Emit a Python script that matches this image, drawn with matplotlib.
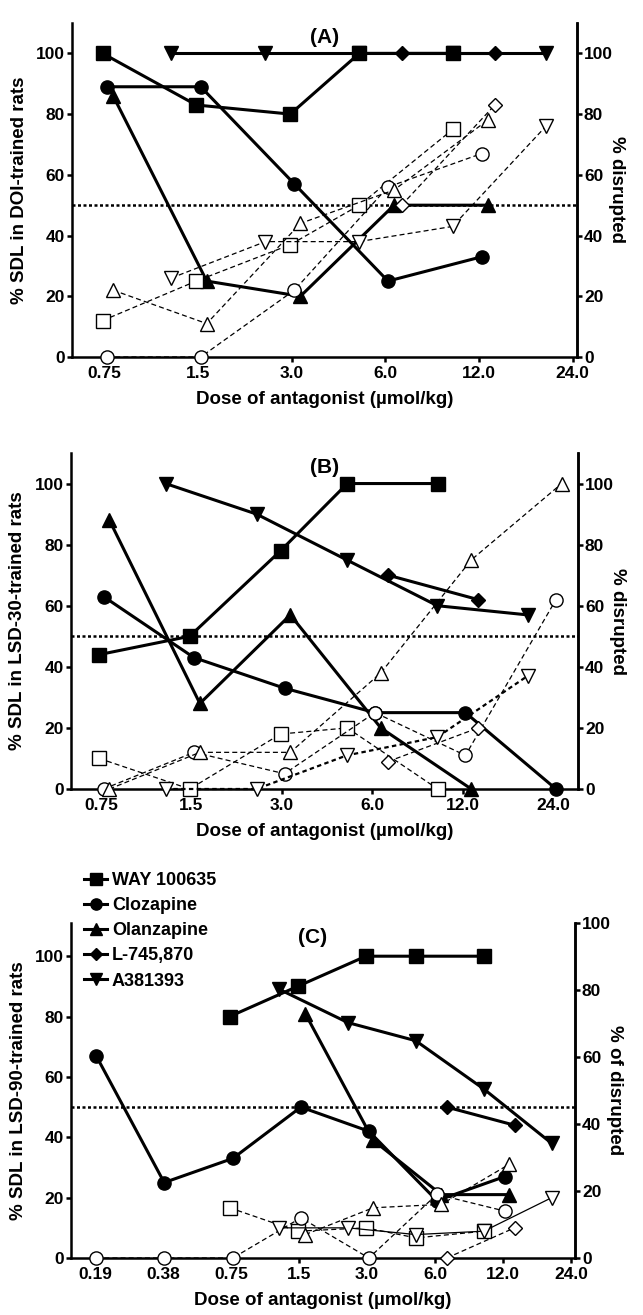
import matplotlib
matplotlib.use("Agg")
import matplotlib.pyplot as plt
from matplotlib.lines import Line2D

plt.rcParams['font.family'] = ['Liberation Sans Narrow', 'Liberation Sans', 'DejaVu Sans']
plt.rcParams['font.weight'] = 'bold'
plt.rcParams['axes.labelweight'] = 'bold'

# doses (umol/kg) as plotted for each antagonist
way_dose = [0.74, 1.48, 2.97, 4.95, 9.9]
clz_dose = [0.765, 1.53, 3.06, 6.12, 12.24]
clz_dose_b = [0.765, 1.53, 3.06, 6.12, 12.24, 24.5]
clz_dose_c = [0.19, 0.38, 0.765, 1.53, 3.06, 6.12, 12.24]
olz_dose = [0.8, 1.6, 3.2, 6.4, 12.8]
olz_dose_b = [0.8, 1.6, 3.2, 6.4, 12.8, 25.6]
olz_dose_c = [1.6, 3.2, 6.4, 12.8]
l745_dose = [6.77, 13.5]
a38_dose = [1.23, 2.47, 4.93, 9.87, 19.7]

# (A) DOI-trained: % SDL (filled) and % disrupted (open)
a_way = [100, 83, 80, 100, 100]
a_clz = [89, 89, 57, 25, 33]
a_olz = [86, 25, 20, 50, 50]
a_l745 = [100, 100]
a_a38 = [100, 100, 100, 100, 100]
a_way_d = [12, 25, 37, 50, 75]
a_clz_d = [0, 0, 22, 56, 67]
a_olz_d = [22, 11, 44, 55, 78]
a_l745_d = [50, 83]
a_a38_d = [26, 38, 38, 43, 76]

# (B) LSD-30-trained
b_way = [44, 50, 78, 100, 100]
b_clz = [63, 43, 33, 25, 25, 0]
b_olz = [88, 28, 57, 20, 0]
b_l745 = [70, 62]
b_a38 = [100, 90, 75, 60, 57]
b_way_d = [10, 0, 18, 20, 0]
b_clz_d = [0, 12, 5, 25, 11, 62]
b_olz_d = [0, 12, 12, 38, 75, 100]
b_l745_d = [9, 20]
b_a38_d = [0, 0, 11, 17, 37]

# (C) LSD-90-trained
c_way = [80, 90, 100, 100, 100]
c_clz = [67, 25, 33, 50, 42, 19, 27]
c_olz = [81, 39, 21, 21]
c_l745 = [50, 44]
c_a38 = [89, 78, 72, 56, 38]
c_way_d = [15, 8, 9, 6, 8]
c_clz_d = [0, 0, 0, 12, 0, 19, 14]
c_olz_d = [7, 15, 16, 28]
c_l745_d = [0, 9]
c_a38_d = [9, 9, 7, 8, 18]

names = ['WAY 100635', 'Clozapine', 'Olanzapine', 'L-745,870', 'A381393']
marks = ['s', 'o', '^', 'D', 'v']
msize = [10, 9.5, 10.5, 7.5, 10.5]

ticks_ab = [0.75, 1.5, 3.0, 6.0, 12.0, 24.0]
ticklabels_ab = ['0.75', '1.5', '3.0', '6.0', '12.0', '24.0']
ticks_c = [0.1875, 0.375, 0.75, 1.5, 3.0, 6.0, 12.0, 24.0]
ticklabels_c = ['0.19', '0.38', '0.75', '1.5', '3.0', '6.0', '12.0', '24.0']

W, H = 643, 1315
fig = plt.figure(figsize=(W / 100, H / 100), dpi=100)

DASH = (0, (4, 2.5))


def make_axes(top, bottom, left=72, right=577):
    return fig.add_axes([left / W, 1 - bottom / H, (right - left) / W, (bottom - top) / H])


def style(ax):
    ax.spines['top'].set_visible(False)
    for s in ['left', 'right', 'bottom']:
        ax.spines[s].set_linewidth(1.8)
    ax.tick_params(axis='both', which='major', length=3.5, width=1.8, labelsize=12.5, pad=1.5)
    ax.tick_params(axis='x', which='major', pad=3)


def panel(ax, xlim, ylim_left, ylim_right, ticks, ticklabels, filled, opened, styles,
          title, ylab, ylab2, title_x=0.5):
    ax.set_xscale('log', base=2)
    ax.set_xlim(*xlim)
    ax.set_ylim(*ylim_left)
    ax.axhline(50, color='black', lw=1.8, ls=(0, (1.2, 1.0)), zorder=1)
    for (x, y), m, ms in zip(filled, marks, msize):
        ax.plot(x, y, color='black', lw=2.2, marker=m, ms=ms, mfc='black', mec='black',
                clip_on=False, zorder=3)
    ax.set_xticks(ticks)
    ax.set_xticklabels(ticklabels)
    ax.minorticks_off()
    ax.set_yticks([0, 20, 40, 60, 80, 100])
    ax.set_xlabel('Dose of antagonist (µmol/kg)', fontsize=13.5, labelpad=7)
    ax.set_ylabel(ylab, fontsize=13.5)
    ax.yaxis.set_label_coords(-0.088, 0.5)
    ax.text(title_x, 0.985, title, transform=ax.transAxes, ha='center', va='top',
            fontsize=15, fontweight='bold')
    style(ax)

    ax2 = ax.twinx()
    ax2.set_ylim(*ylim_right)
    for (x, y), m, ms, st in zip(opened, marks, msize, styles):
        ls, lw = st
        ax2.plot(x, y, color='black', lw=lw, ls=ls, marker=m, ms=ms, mfc='white',
                 mec='black', mew=1.0, clip_on=False, zorder=3)
    ax2.set_yticks([0, 20, 40, 60, 80, 100])
    ax2.set_ylabel(ylab2, fontsize=13.5, rotation=270)
    ax2.yaxis.set_label_coords(1.095, 0.5)
    style(ax2)
    ax2.spines['left'].set_visible(False)
    ax2.spines['bottom'].set_visible(False)
    return ax2


dash_all = [(DASH, 0.9)] * 5

# (A)
axA = make_axes(23, 357)
panel(axA, (0.59, 24.8), (0, 110), (0, 110), ticks_ab, ticklabels_ab,
      [(way_dose, a_way), (clz_dose, a_clz), (olz_dose, a_olz), (l745_dose, a_l745), (a38_dose, a_a38)],
      [(way_dose, a_way_d), (clz_dose, a_clz_d), (olz_dose, a_olz_d), (l745_dose, a_l745_d), (a38_dose, a_a38_d)],
      dash_all, '(A)', '% SDL in DOI-trained rats', '% disrupted')

# (B)
axB = make_axes(453, 789, 71, 578)
panel(axB, (0.596, 29), (0, 110), (0, 110), ticks_ab, ticklabels_ab,
      [(way_dose, b_way), (clz_dose_b, b_clz), (olz_dose, b_olz), (l745_dose, b_l745), (a38_dose, b_a38)],
      [(way_dose, b_way_d), (clz_dose_b, b_clz_d), (olz_dose_b, b_olz_d), (l745_dose, b_l745_d), (a38_dose, b_a38_d)],
      [(DASH, 0.9)] * 4 + [((0, (2, 1.5)), 1.6)], '(B)', '% SDL in LSD-30-trained rats', '% disrupted')

# (C)
axC = make_axes(923, 1258, 71, 575)
panel(axC, (0.147, 25), (0, 111), (0, 100), ticks_c, ticklabels_c,
      [(way_dose, c_way), (clz_dose_c, c_clz), (olz_dose_c, c_olz), (l745_dose, c_l745), (a38_dose, c_a38)],
      [(way_dose, c_way_d), (clz_dose_c, c_clz_d), (olz_dose_c, c_olz_d), (l745_dose, c_l745_d), (a38_dose, c_a38_d)],
      [(DASH, 0.9)] * 4 + [('-', 0.9)], '(C)', '% SDL in LSD-90-trained rats', '% of disrupted',
      title_x=0.48)

handles = [Line2D([], [], color='black', lw=2.2, marker=m, ms=ms * 0.85, mfc='black', mec='black')
           for m, ms in zip(marks, msize)]
fig.legend(handles, names, loc='upper left', bbox_to_anchor=(84 / W, 1 - 872 / H),
           frameon=False, fontsize=13, handlelength=1.3, handletextpad=0.25,
           labelspacing=0.45, borderpad=0, borderaxespad=0)

fig.savefig('out.png', dpi=100)
